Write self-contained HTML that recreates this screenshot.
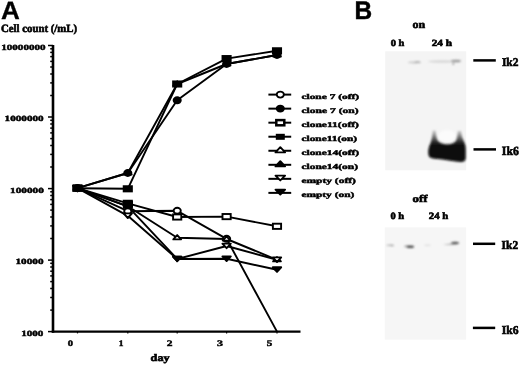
<!DOCTYPE html>
<html><head><meta charset="utf-8">
<style>
html,body{margin:0;padding:0;background:#fff;width:520px;height:365px;overflow:hidden}
svg{display:block;text-rendering:geometricPrecision;will-change:transform}
.s{font-family:"Liberation Serif",serif;font-weight:bold;fill:#000}
.h{font-family:"Liberation Sans",sans-serif;font-weight:bold;fill:#000}
</style></head><body>
<svg width="520" height="365" viewBox="0 0 520 365">
<defs>
<filter id="bl" x="-50%" y="-200%" width="200%" height="500%"><feGaussianBlur stdDeviation="1.0"/></filter>
<filter id="bl2" x="-50%" y="-50%" width="200%" height="200%"><feGaussianBlur stdDeviation="1.3"/></filter>
<filter id="bl15" x="-50%" y="-50%" width="200%" height="200%"><feGaussianBlur stdDeviation="1.1"/></filter>
<linearGradient id="bg" gradientUnits="userSpaceOnUse" x1="0" y1="129" x2="0" y2="146.5"><stop offset="0" stop-color="#d8d8d8"/><stop offset="0.25" stop-color="#a8a8a8"/><stop offset="0.5" stop-color="#686868"/><stop offset="0.75" stop-color="#262626"/><stop offset="1" stop-color="#070707"/></linearGradient>
<linearGradient id="hg" x1="0" y1="1" x2="0" y2="0"><stop offset="0" stop-color="#333"/><stop offset="0.6" stop-color="#888"/><stop offset="1" stop-color="#ccc"/></linearGradient>
</defs>

<rect x="385.2" y="51.3" width="81.0" height="119" fill="#f4f4f4"/>
<rect x="384.8" y="227.4" width="81.3" height="112.2" fill="#f6f6f6"/>
<g filter="url(#bl)">
<ellipse cx="414.5" cy="62.4" rx="6.5" ry="1.0" fill="#c4c4c4"/>
<ellipse cx="417.5" cy="62.2" rx="3" ry="0.9" fill="#aaa"/>
<ellipse cx="442" cy="61.5" rx="14" ry="0.9" fill="#d0d0d0"/>
<ellipse cx="456" cy="61" rx="5" ry="1.3" fill="#999"/>
<circle cx="453.3" cy="63.8" r="0.9" fill="#777"/>
</g>
<ellipse cx="447" cy="136" rx="9" ry="6" fill="#fbfbfb" filter="url(#bl2)"/>
<g filter="url(#bl2)">
<path d="M429 156.5 C428 154 428 150 429 147 C430 144 431.5 141 432 137 L432.8 130.5 L435.6 130.5 C436 134 436.3 137 437.2 139.5 C438.5 143 444 144.2 447 144.2 C451 144.2 455.5 143 456.5 139.5 C457.2 137 457.5 134 457.9 131 L461 131 C461.5 135 462.5 139 464.2 142 C465.4 144.5 465.7 147 465.7 150 L465.7 158.5 C465.5 161.5 463 162.2 458 161.8 C450 161 444 159.3 438 159 C433 158.8 430 158 429 156.5 Z" fill="url(#bg)"/>
</g>
<g filter="url(#bl)">
<ellipse cx="390" cy="245.2" rx="3.8" ry="0.7" fill="#b8b8b8"/>
<ellipse cx="392" cy="245.5" rx="1.8" ry="0.8" fill="#999"/>
<ellipse cx="407" cy="246.3" rx="3" ry="0.9" fill="#9a9a9a"/>
<ellipse cx="410.3" cy="246.8" rx="3.8" ry="1.2" fill="#4a4a4a"/>
<ellipse cx="427.5" cy="245.2" rx="3.5" ry="0.7" fill="#dedede"/>
<path d="M442.5 245 L452 243.3 L458.5 242 L459.5 243.5 L452 245 Z" fill="#b0b0b0"/>
<ellipse cx="455" cy="243" rx="3.8" ry="1.3" fill="#555"/>
</g>
<g stroke="#000" stroke-width="2.5">
<line x1="473.3" y1="60.4" x2="495.8" y2="60.4"/>
<line x1="473.5" y1="149.4" x2="496" y2="149.4"/>
<line x1="473" y1="243.8" x2="495.2" y2="243.8"/>
<line x1="472.9" y1="327.9" x2="495.2" y2="327.9"/>
</g>

<g stroke="#000" fill="none">
<line x1="53" y1="45" x2="53" y2="332.7" stroke-width="2.6"/>
<line x1="51.8" y1="331.6" x2="300.5" y2="331.6" stroke-width="2.4"/>
<g stroke-width="1.5">
<line x1="50.2" y1="310.1" x2="53" y2="310.1"/>
<line x1="50.2" y1="297.5" x2="53" y2="297.5"/>
<line x1="50.2" y1="288.5" x2="53" y2="288.5"/>
<line x1="50.2" y1="281.6" x2="53" y2="281.6"/>
<line x1="50.2" y1="275.9" x2="53" y2="275.9"/>
<line x1="50.2" y1="271.2" x2="53" y2="271.2"/>
<line x1="50.2" y1="267.0" x2="53" y2="267.0"/>
<line x1="50.2" y1="263.3" x2="53" y2="263.3"/>
<line x1="50.2" y1="238.5" x2="53" y2="238.5"/>
<line x1="50.2" y1="225.9" x2="53" y2="225.9"/>
<line x1="50.2" y1="217.0" x2="53" y2="217.0"/>
<line x1="50.2" y1="210.1" x2="53" y2="210.1"/>
<line x1="50.2" y1="204.4" x2="53" y2="204.4"/>
<line x1="50.2" y1="199.6" x2="53" y2="199.6"/>
<line x1="50.2" y1="195.5" x2="53" y2="195.5"/>
<line x1="50.2" y1="191.8" x2="53" y2="191.8"/>
<line x1="50.2" y1="167.0" x2="53" y2="167.0"/>
<line x1="50.2" y1="154.4" x2="53" y2="154.4"/>
<line x1="50.2" y1="145.5" x2="53" y2="145.5"/>
<line x1="50.2" y1="138.6" x2="53" y2="138.6"/>
<line x1="50.2" y1="132.9" x2="53" y2="132.9"/>
<line x1="50.2" y1="128.1" x2="53" y2="128.1"/>
<line x1="50.2" y1="124.0" x2="53" y2="124.0"/>
<line x1="50.2" y1="120.3" x2="53" y2="120.3"/>
<line x1="50.2" y1="95.5" x2="53" y2="95.5"/>
<line x1="50.2" y1="82.9" x2="53" y2="82.9"/>
<line x1="50.2" y1="74.0" x2="53" y2="74.0"/>
<line x1="50.2" y1="67.0" x2="53" y2="67.0"/>
<line x1="50.2" y1="61.4" x2="53" y2="61.4"/>
<line x1="50.2" y1="56.6" x2="53" y2="56.6"/>
<line x1="50.2" y1="52.4" x2="53" y2="52.4"/>
<line x1="50.2" y1="48.8" x2="53" y2="48.8"/>
<line x1="48" y1="331.6" x2="53" y2="331.6"/>
<line x1="48" y1="260.1" x2="53" y2="260.1"/>
<line x1="48" y1="188.6" x2="53" y2="188.6"/>
<line x1="48" y1="117.0" x2="53" y2="117.0"/>
<line x1="48" y1="45.5" x2="53" y2="45.5"/>
<line x1="77.5" y1="331" x2="77.5" y2="333.4" stroke-width="1.2"/>
<line x1="127.8" y1="331" x2="127.8" y2="333.4" stroke-width="1.2"/>
<line x1="177.2" y1="331" x2="177.2" y2="333.4" stroke-width="1.2"/>
<line x1="226.6" y1="331" x2="226.6" y2="333.4" stroke-width="1.2"/>
<line x1="277.0" y1="331" x2="277.0" y2="333.4" stroke-width="1.2"/>
</g>
</g>
<g stroke="#000" stroke-width="1.9" fill="none" stroke-linejoin="round">
<polyline points="77.5,188.2 127.8,211.2 177.2,210.8 226.6,238.8 277.0,331.6"/>
<polyline points="77.5,188.2 127.8,173.0 177.2,100.3 226.6,64.0 277.0,55.0"/>
<polyline points="77.5,188.2 127.8,203.3 177.2,217.0 226.6,216.6 277.0,226.3"/>
<polyline points="77.5,188.2 127.8,188.8 177.2,84.0 226.6,58.6 277.0,50.8"/>
<polyline points="77.5,188.2 127.8,206.3 177.2,237.8 226.6,239.0 277.0,259.8"/>
<polyline points="77.5,188.2 127.8,173.0 177.2,84.0 226.6,64.0 277.0,55.0"/>
<polyline points="77.5,188.2 127.8,215.8 177.2,259.0 226.6,246.0 277.0,259.8"/>
<polyline points="77.5,188.2 127.8,206.3 177.2,259.0 226.6,258.8 277.0,269.7"/>
</g>
<g>
<ellipse cx="77.5" cy="188.2" rx="3.6" ry="3.0" fill="#fff" stroke="#000" stroke-width="1.9"/>
<ellipse cx="177.2" cy="210.8" rx="3.6" ry="3.0" fill="#fff" stroke="#000" stroke-width="1.9"/>
<ellipse cx="226.6" cy="238.8" rx="3.6" ry="3.0" fill="#fff" stroke="#000" stroke-width="1.9"/>
<ellipse cx="77.5" cy="188.2" rx="3.6" ry="3.0" fill="#000" stroke="#000" stroke-width="1.9"/>
<ellipse cx="127.8" cy="173.0" rx="3.6" ry="3.0" fill="#000" stroke="#000" stroke-width="1.9"/>
<ellipse cx="177.2" cy="100.3" rx="3.6" ry="3.0" fill="#000" stroke="#000" stroke-width="1.9"/>
<ellipse cx="226.6" cy="64.0" rx="3.6" ry="3.0" fill="#000" stroke="#000" stroke-width="1.9"/>
<ellipse cx="277.0" cy="55.0" rx="3.6" ry="3.0" fill="#000" stroke="#000" stroke-width="1.9"/>
<rect x="73.4" y="185.6" width="8.2" height="5.2" fill="#fff" stroke="#000" stroke-width="1.9"/>
<rect x="123.7" y="200.7" width="8.2" height="5.2" fill="#fff" stroke="#000" stroke-width="1.9"/>
<rect x="173.1" y="214.4" width="8.2" height="5.2" fill="#fff" stroke="#000" stroke-width="1.9"/>
<rect x="222.5" y="214.0" width="8.2" height="5.2" fill="#fff" stroke="#000" stroke-width="1.9"/>
<rect x="272.9" y="223.7" width="8.2" height="5.2" fill="#fff" stroke="#000" stroke-width="1.9"/>
<rect x="73.4" y="185.6" width="8.2" height="5.2" fill="#000" stroke="#000" stroke-width="1.9"/>
<rect x="123.7" y="186.2" width="8.2" height="5.2" fill="#000" stroke="#000" stroke-width="1.9"/>
<rect x="173.1" y="81.4" width="8.2" height="5.2" fill="#000" stroke="#000" stroke-width="1.9"/>
<rect x="222.5" y="56.0" width="8.2" height="5.2" fill="#000" stroke="#000" stroke-width="1.9"/>
<rect x="272.9" y="48.2" width="8.2" height="5.2" fill="#000" stroke="#000" stroke-width="1.9"/>
<path d="M77.5 185.5 L81.4 189.8 L73.6 189.8 Z" fill="#fff" stroke="#000" stroke-width="1.9" stroke-linejoin="round"/>
<path d="M127.8 203.6 L131.7 207.9 L123.9 207.9 Z" fill="#fff" stroke="#000" stroke-width="1.9" stroke-linejoin="round"/>
<path d="M177.2 235.1 L181.1 239.4 L173.3 239.4 Z" fill="#fff" stroke="#000" stroke-width="1.9" stroke-linejoin="round"/>
<path d="M226.6 236.3 L230.5 240.6 L222.7 240.6 Z" fill="#fff" stroke="#000" stroke-width="1.9" stroke-linejoin="round"/>
<path d="M277.0 257.1 L280.9 261.4 L273.1 261.4 Z" fill="#fff" stroke="#000" stroke-width="1.9" stroke-linejoin="round"/>
<path d="M77.5 185.5 L81.4 189.8 L73.6 189.8 Z" fill="#000" stroke="#000" stroke-width="1.9" stroke-linejoin="round"/>
<path d="M127.8 170.3 L131.7 174.6 L123.9 174.6 Z" fill="#000" stroke="#000" stroke-width="1.9" stroke-linejoin="round"/>
<path d="M177.2 81.3 L181.1 85.6 L173.3 85.6 Z" fill="#000" stroke="#000" stroke-width="1.9" stroke-linejoin="round"/>
<path d="M226.6 61.3 L230.5 65.6 L222.7 65.6 Z" fill="#000" stroke="#000" stroke-width="1.9" stroke-linejoin="round"/>
<path d="M277.0 52.3 L280.9 56.6 L273.1 56.6 Z" fill="#000" stroke="#000" stroke-width="1.9" stroke-linejoin="round"/>
<path d="M73.3 185.8 L81.7 185.8 L77.5 190.4 Z" fill="#fff" stroke="#000" stroke-width="1.9" stroke-linejoin="round"/>
<path d="M173.0 256.6 L181.4 256.6 L177.2 261.2 Z" fill="#fff" stroke="#000" stroke-width="1.9" stroke-linejoin="round"/>
<path d="M222.4 243.6 L230.8 243.6 L226.6 248.2 Z" fill="#fff" stroke="#000" stroke-width="1.9" stroke-linejoin="round"/>
<path d="M272.8 257.4 L281.2 257.4 L277.0 262.0 Z" fill="#fff" stroke="#000" stroke-width="1.9" stroke-linejoin="round"/>
<path d="M73.3 185.8 L81.7 185.8 L77.5 190.4 Z" fill="#000" stroke="#000" stroke-width="1.9" stroke-linejoin="round"/>
<path d="M123.6 203.9 L132.0 203.9 L127.8 208.5 Z" fill="#000" stroke="#000" stroke-width="1.9" stroke-linejoin="round"/>
<path d="M173.0 256.6 L181.4 256.6 L177.2 261.2 Z" fill="#000" stroke="#000" stroke-width="1.9" stroke-linejoin="round"/>
<path d="M222.4 256.4 L230.8 256.4 L226.6 261.0 Z" fill="#000" stroke="#000" stroke-width="1.9" stroke-linejoin="round"/>
<path d="M272.8 267.3 L281.2 267.3 L277.0 271.9 Z" fill="#000" stroke="#000" stroke-width="1.9" stroke-linejoin="round"/>
<rect x="123.0" y="200.9" width="10.0" height="7.0" fill="#000"/>
<ellipse cx="127.8" cy="211.2" rx="3.6" ry="3.0" fill="#fff" stroke="#000" stroke-width="1.9"/>
<path d="M123.6 213.4 L132.0 213.4 L127.8 218.0 Z" fill="#fff" stroke="#000" stroke-width="1.9" stroke-linejoin="round"/>
</g>
<g>
<line x1="268.4" y1="94.60" x2="291.2" y2="94.60" stroke="#000" stroke-width="2"/>
<ellipse cx="280.3" cy="94.6" rx="3.6" ry="3.0" fill="#fff" stroke="#000" stroke-width="1.9"/>
<line x1="268.4" y1="108.64" x2="291.2" y2="108.64" stroke="#000" stroke-width="2"/>
<ellipse cx="280.3" cy="108.6" rx="3.6" ry="3.0" fill="#000" stroke="#000" stroke-width="1.9"/>
<line x1="268.4" y1="122.68" x2="291.2" y2="122.68" stroke="#000" stroke-width="2"/>
<rect x="276.3" y="120.1" width="8.0" height="5.2" fill="#fff" stroke="#000" stroke-width="2.5"/>
<line x1="268.4" y1="136.72" x2="291.2" y2="136.72" stroke="#000" stroke-width="2"/>
<rect x="275.8" y="133.8" width="9.0" height="6.0" fill="#000"/>
<line x1="268.4" y1="150.76" x2="291.2" y2="150.76" stroke="#000" stroke-width="2"/>
<path d="M280.3 147.2 L285.1 152.4 L275.5 152.4 Z" fill="#fff" stroke="#000" stroke-width="1.9" stroke-linejoin="round"/>
<line x1="268.4" y1="164.80" x2="291.2" y2="164.80" stroke="#000" stroke-width="2"/>
<path d="M280.3 161.2 L285.1 166.4 L275.5 166.4 Z" fill="#000" stroke="#000" stroke-width="1.9" stroke-linejoin="round"/>
<line x1="268.4" y1="178.84" x2="291.2" y2="178.84" stroke="#000" stroke-width="2"/>
<path d="M275.5 175.6 L285.1 175.6 L280.3 180.4 Z" fill="#fff" stroke="#000" stroke-width="1.9" stroke-linejoin="round"/>
<line x1="268.4" y1="192.88" x2="291.2" y2="192.88" stroke="#000" stroke-width="2"/>
<path d="M275.5 189.7 L285.1 189.7 L280.3 194.5 Z" fill="#000" stroke="#000" stroke-width="1.9" stroke-linejoin="round"/>
</g>
<text class="h" x="1.00" y="18.70" font-size="25.22" textLength="18.84" lengthAdjust="spacingAndGlyphs" stroke="#000" stroke-width="0.3">A</text>
<text class="s" x="0.97" y="31.80" font-size="11.10" textLength="76.10" lengthAdjust="spacingAndGlyphs" stroke="#000" stroke-width="0.6">Cell count (/mL)</text>
<text class="s" x="1.24" y="49.60" font-size="8.08" textLength="44.36" lengthAdjust="spacingAndGlyphs" stroke="#000" stroke-width="0.45">10000000</text>
<text class="s" x="4.63" y="120.80" font-size="7.93" textLength="38.97" lengthAdjust="spacingAndGlyphs" stroke="#000" stroke-width="0.45">1000000</text>
<text class="s" x="10.13" y="192.80" font-size="7.78" textLength="33.68" lengthAdjust="spacingAndGlyphs" stroke="#000" stroke-width="0.45">100000</text>
<text class="s" x="15.53" y="264.00" font-size="7.93" textLength="27.97" lengthAdjust="spacingAndGlyphs" stroke="#000" stroke-width="0.45">10000</text>
<text class="s" x="21.24" y="336.00" font-size="7.93" textLength="22.05" lengthAdjust="spacingAndGlyphs" stroke="#000" stroke-width="0.45">1000</text>
<text class="s" x="67.88" y="345.70" font-size="8.38" textLength="5.25" lengthAdjust="spacingAndGlyphs" stroke="#000" stroke-width="0.45">0</text>
<text class="s" x="118.72" y="345.70" font-size="8.44" textLength="4.69" lengthAdjust="spacingAndGlyphs" stroke="#000" stroke-width="0.45">1</text>
<text class="s" x="166.84" y="345.70" font-size="8.42" textLength="5.72" lengthAdjust="spacingAndGlyphs" stroke="#000" stroke-width="0.45">2</text>
<text class="s" x="216.92" y="345.70" font-size="8.42" textLength="6.01" lengthAdjust="spacingAndGlyphs" stroke="#000" stroke-width="0.45">3</text>
<text class="s" x="266.89" y="345.70" font-size="8.51" textLength="5.49" lengthAdjust="spacingAndGlyphs" stroke="#000" stroke-width="0.45">5</text>
<text class="s" x="150.60" y="360.70" font-size="9.94" textLength="19.01" lengthAdjust="spacingAndGlyphs" stroke="#000" stroke-width="0.6">day</text>
<text class="s" x="301.43" y="98.50" font-size="7.21" textLength="57.74" lengthAdjust="spacingAndGlyphs" stroke="#000" stroke-width="0.45">clone 7 (off)</text>
<text class="s" x="301.43" y="112.60" font-size="7.46" textLength="57.15" lengthAdjust="spacingAndGlyphs" stroke="#000" stroke-width="0.45">clone 7 (on)</text>
<text class="s" x="301.44" y="126.60" font-size="7.35" textLength="57.44" lengthAdjust="spacingAndGlyphs" stroke="#000" stroke-width="0.45">clone11(off)</text>
<text class="s" x="301.44" y="140.60" font-size="7.46" textLength="55.63" lengthAdjust="spacingAndGlyphs" stroke="#000" stroke-width="0.45">clone11(on)</text>
<text class="s" x="301.43" y="154.60" font-size="7.35" textLength="57.74" lengthAdjust="spacingAndGlyphs" stroke="#000" stroke-width="0.45">clone14(off)</text>
<text class="s" x="301.43" y="168.60" font-size="7.46" textLength="56.54" lengthAdjust="spacingAndGlyphs" stroke="#000" stroke-width="0.45">clone14(on)</text>
<text class="s" x="301.43" y="182.60" font-size="7.35" textLength="54.45" lengthAdjust="spacingAndGlyphs" stroke="#000" stroke-width="0.45">empty (off)</text>
<text class="s" x="301.44" y="196.50" font-size="7.31" textLength="52.84" lengthAdjust="spacingAndGlyphs" stroke="#000" stroke-width="0.45">empty (on)</text>
<text class="h" x="354.62" y="18.70" font-size="25.36" textLength="17.64" lengthAdjust="spacingAndGlyphs" stroke="#000" stroke-width="0.5">B</text>
<text class="s" x="412.64" y="28.10" font-size="11.04" textLength="12.64" lengthAdjust="spacingAndGlyphs" stroke="#000" stroke-width="0.6">on</text>
<text class="s" x="390.70" y="45.70" font-size="9.37" textLength="13.66" lengthAdjust="spacingAndGlyphs" stroke="#000" stroke-width="0.6">0 h</text>
<text class="s" x="431.73" y="45.70" font-size="9.37" textLength="20.24" lengthAdjust="spacingAndGlyphs" stroke="#000" stroke-width="0.6">24 h</text>
<text class="s" x="412.51" y="201.80" font-size="10.23" textLength="14.96" lengthAdjust="spacingAndGlyphs" stroke="#000" stroke-width="0.6">off</text>
<text class="s" x="390.40" y="218.60" font-size="9.66" textLength="13.66" lengthAdjust="spacingAndGlyphs" stroke="#000" stroke-width="0.6">0 h</text>
<text class="s" x="428.85" y="218.60" font-size="9.66" textLength="19.52" lengthAdjust="spacingAndGlyphs" stroke="#000" stroke-width="0.6">24 h</text>
<text class="s" x="501.91" y="65.70" font-size="11.82" textLength="16.58" lengthAdjust="spacingAndGlyphs" stroke="#000" stroke-width="0.6">Ik2</text>
<text class="s" x="501.80" y="154.80" font-size="12.54" textLength="17.04" lengthAdjust="spacingAndGlyphs" stroke="#000" stroke-width="0.6">Ik6</text>
<text class="s" x="501.61" y="248.60" font-size="11.96" textLength="16.58" lengthAdjust="spacingAndGlyphs" stroke="#000" stroke-width="0.6">Ik2</text>
<text class="s" x="501.81" y="333.50" font-size="11.96" textLength="16.83" lengthAdjust="spacingAndGlyphs" stroke="#000" stroke-width="0.6">Ik6</text>
</svg>
</body></html>
